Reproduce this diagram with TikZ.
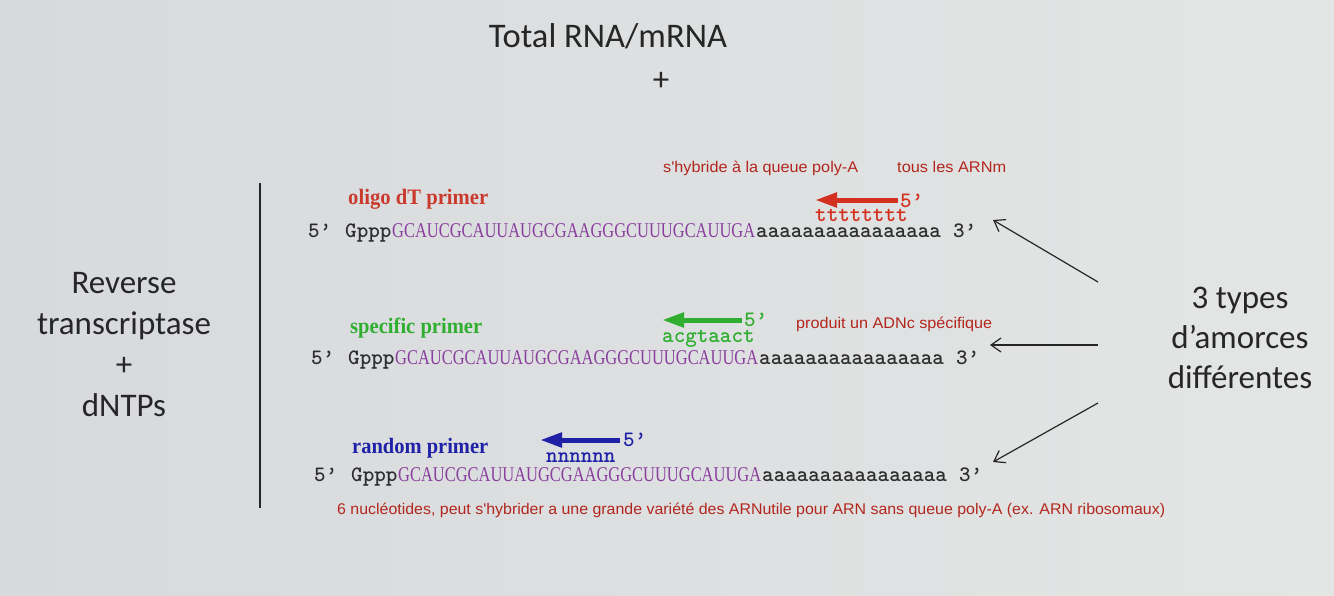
\documentclass[tikz,border=0pt]{standalone}
\usepackage{fontspec}
\usepackage{graphicx}
\usetikzlibrary{arrows.meta}
\setmainfont{Liberation Serif}
\newfontfamily\calib{Carlito}
\newfontfamily\arialf{Liberation Sans}
\newfontfamily\tmsf{Liberation Serif}
\newfontfamily\courf{lmmonolt10-bold.otf}
\definecolor{bgL}{HTML}{D7D9DD}
\definecolor{bgR}{HTML}{E3E6E4}
\definecolor{ink}{HTML}{262626}
\definecolor{seqgrey}{HTML}{2E2E2E}
\definecolor{purp}{HTML}{8A3F9E}
\definecolor{lblred}{HTML}{C93A2C}
\definecolor{arrred}{HTML}{D3301F}
\definecolor{annred}{HTML}{B3261E}
\definecolor{grn}{HTML}{2FAE2F}
\definecolor{blu}{HTML}{1F22A6}
\newcommand\fitw[2]{\resizebox{#1}{\height}{#2}}
\tikzset{
  big/.style={font=\calib\fontsize{33}{38}\selectfont, text=ink, inner sep=0pt},
  mono/.style={font=\courf\fontsize{22}{24}\selectfont, inner sep=0pt, anchor=base west},
  lbl/.style={font=\tmsf\bfseries\fontsize{22}{24}\selectfont, inner sep=0pt, anchor=base west},
  ann/.style={font=\arialf\fontsize{15.5}{18}\selectfont, text=annred, inner sep=0pt, anchor=base west},
  purpseq/.style={font=\tmsf\fontsize{21}{24}\selectfont, text=purp, inner sep=0pt, anchor=base west},
  primarrow/.style={line width=5pt, -{Triangle[length=22pt,width=14pt]}},
  pointer/.style={line width=1.2pt, draw=ink, -{Straight Barb[length=10pt,width=14pt,line width=1.2pt]}}
}
\newcommand\seqrow[3]{%
  \node[mono, text=seqgrey] (#3five) at (#1,#2) {5’};
  \node[mono, text=seqgrey] (#3gppp) at (#1+37,#2) {Gppp};
  \node[purpseq] (#3mid) at (#1+84,#2) {\fitw{363pt}{GCAUCGCAUUAUGCGAAGGGCUUUGCAUUGA}};
  \node[mono, text=seqgrey] (#3tail) at (#1+448,#2) {aaaaaaaaaaaaaaaa};
  \node[mono, text=seqgrey] (#3three) at (#1+645,#2) {3’};
}
\begin{document}
\begin{tikzpicture}[x=1pt,y=-1pt]
\shade[left color=bgL, right color=bgR] (0,0) rectangle (1334,595);
\useasboundingbox (0,0) rectangle (1334,595);

% title
\node[big, anchor=base, font=\calib\fontsize{34.5}{40}\selectfont] (title) at (608,47) {Total RNA/mRNA};
\node[big, anchor=base] (plus1) at (661,90) {+};

% left block
\node[big, anchor=base] (rev) at (124,293) {Reverse};
\node[big, anchor=base] (trans) at (124,334) {transcriptase};
\node[big, anchor=base] (plus2) at (124,375) {+};
\node[big, anchor=base] (dntp) at (124,416) {dNTPs};
\coordinate (vtop) at (260,183);
\coordinate (vbot) at (260,508);
\draw[line width=1.3pt, draw=ink] (vtop) -- (vbot);

% right block
\node[big, anchor=base] (types) at (1240,308) {3 types};
\node[big, anchor=base] (amorces) at (1240,348) {d’amorces};
\node[big, anchor=base] (diff) at (1240,388) {différentes};

% row 1 : oligo dT
\node[ann] (hyb) at (663,172) {\fitw{195pt}{s'hybride à la queue poly-A}};
\node[ann] (tous) at (897,172) {\fitw{109pt}{tous les ARNm}};
\node[lbl, text=lblred] (oligo) at (348,204) {\fitw{140pt}{oligo dT primer}};
\coordinate (r1tail) at (898,200);
\coordinate (r1tip) at (815,200);
\draw[primarrow, draw=arrred, fill=arrred] (r1tail) -- (r1tip);
\node[mono, text=arrred] (r1five) at (900,207) {5’};
\node[mono, text=arrred] (r1t) at (815,221) {tttttttt};
\seqrow{308}{237}{sA}

% row 2 : specific
\node[lbl, text=grn] (spec) at (350,333) {\fitw{132pt}{specific primer}};
\coordinate (r2tail) at (742,320);
\coordinate (r2tip) at (662,320);
\draw[primarrow, draw=grn, fill=grn] (r2tail) -- (r2tip);
\node[mono, text=grn] (r2five) at (744,326) {5’};
\node[mono, text=grn] (r2t) at (662,342) {acgtaact};
\node[ann] (prod) at (796,328) {\fitw{196pt}{produit un ADNc spécifique}};
\seqrow{311}{364}{sB}

% row 3 : random
\node[lbl, text=blu] (rand) at (352,453) {\fitw{136pt}{random primer}};
\coordinate (r3tail) at (620,440);
\coordinate (r3tip) at (540,440);
\draw[primarrow, draw=blu, fill=blu] (r3tail) -- (r3tip);
\node[mono, text=blu] (r3five) at (623,446) {5’};
\node[mono, text=blu] (r3t) at (546,462) {nnnnnn};
\seqrow{314}{481}{sC}
\node[ann] (six) at (337,514) {\fitw{828pt}{6 nucléotides, peut s'hybrider a une grande variété des ARNutile pour ARN sans queue poly-A (ex. ARN ribosomaux)}};

% pointers from "3 types"
\coordinate (p1s) at (1098,282);
\coordinate (p1e) at (993,220);
\coordinate (p2s) at (1098,345);
\coordinate (p2e) at (990,345);
\coordinate (p3s) at (1098,403);
\coordinate (p3e) at (993,462);
\draw[pointer] (p1s) -- (p1e);
\draw[pointer] (p2s) -- (p2e);
\draw[pointer] (p3s) -- (p3e);
\end{tikzpicture}
\end{document}
